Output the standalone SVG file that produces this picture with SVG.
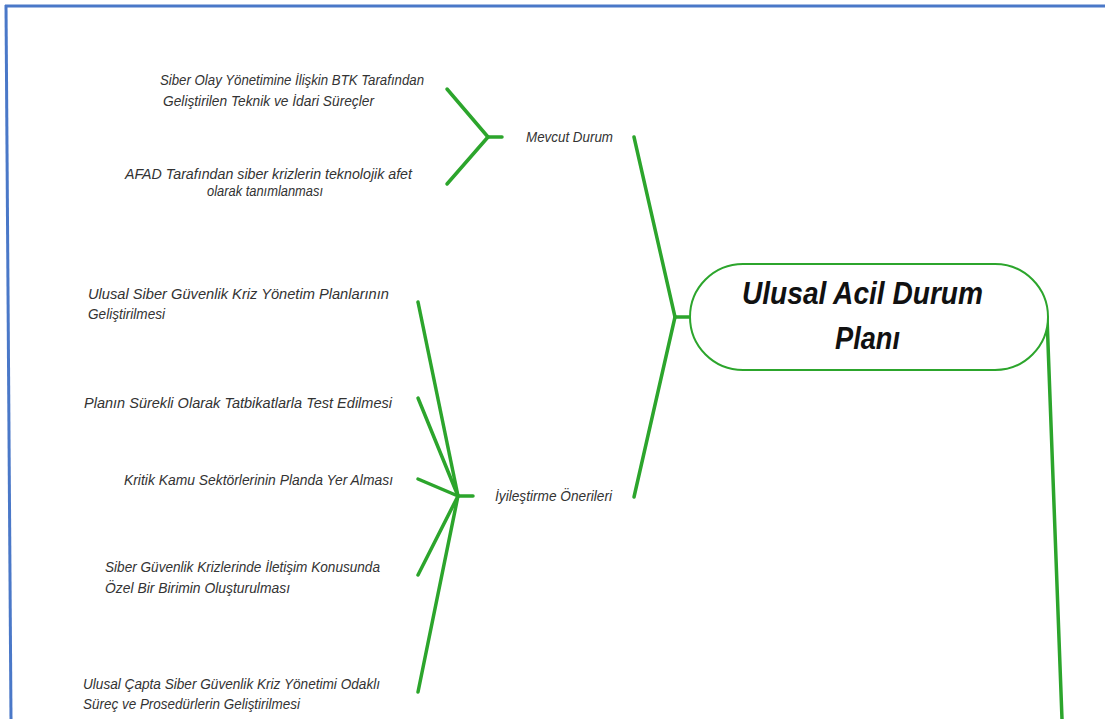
<svg xmlns="http://www.w3.org/2000/svg" width="1105" height="719" viewBox="0 0 1105 719">
  <style>
    .frame { stroke: #4a78c8; stroke-width: 3; fill: none; }
    .edge { stroke: #2ca52c; stroke-width: 3.5; stroke-linecap: round; fill: none; }
    .root-box { fill: #ffffff; stroke: #2ca52c; stroke-width: 2; }
    .lbl { font-family: "Liberation Sans", Arial, sans-serif; font-style: italic; font-size: 14.5px; fill: #333333; }
    .title { font-family: "Liberation Sans", Arial, sans-serif; font-style: italic; font-weight: bold; font-size: 31px; fill: #111111; }
  </style>

  <rect x="0" y="0" width="1105" height="719" fill="#ffffff"/>
  <!-- page frame -->
  <line class="frame" x1="5" y1="6" x2="1105" y2="6"/>
  <line class="frame" x1="6" y1="5" x2="11" y2="719"/>

  <g id="connectors">
    <!-- root to main branches -->
    <line class="edge" x1="689" y1="317" x2="675" y2="317"/>
    <line class="edge" x1="675" y1="317" x2="634" y2="137"/>
    <line class="edge" x1="675" y1="317" x2="634" y2="497"/>
    <line class="edge" x1="1047" y1="317" x2="1062" y2="719"/>
    <!-- Mevcut Durum fan -->
    <line class="edge" x1="502" y1="137" x2="488" y2="137"/>
    <line class="edge" x1="488" y1="137" x2="447" y2="89"/>
    <line class="edge" x1="488" y1="137" x2="447" y2="184"/>
    <!-- İyileştirme Önerileri fan -->
    <line class="edge" x1="473" y1="496" x2="458" y2="496"/>
    <line class="edge" x1="458" y1="496" x2="418" y2="302"/>
    <line class="edge" x1="458" y1="496" x2="418" y2="398"/>
    <line class="edge" x1="458" y1="496" x2="418" y2="479"/>
    <line class="edge" x1="458" y1="496" x2="418" y2="575"/>
    <line class="edge" x1="458" y1="496" x2="418" y2="692"/>
  </g>

  <g id="root">
    <rect class="root-box" x="690" y="264" width="358" height="106" rx="53" ry="53"/>
    <text class="title" x="742" y="304" textLength="241" lengthAdjust="spacingAndGlyphs">Ulusal Acil Durum</text>
    <text class="title" x="835" y="349" textLength="65" lengthAdjust="spacingAndGlyphs">Planı</text>
  </g>

  <g id="mevcut-durum">
    <text class="lbl" x="526" y="142" textLength="87" lengthAdjust="spacingAndGlyphs">Mevcut Durum</text>
  </g>

  <g id="btk-surecleri">
    <text class="lbl" x="160" y="85" textLength="264" lengthAdjust="spacingAndGlyphs">Siber Olay Yönetimine İlişkin BTK Tarafından</text>
    <text class="lbl" x="163" y="106" textLength="211" lengthAdjust="spacingAndGlyphs">Geliştirilen Teknik ve İdari Süreçler</text>
  </g>

  <g id="afad">
    <text class="lbl" x="125" y="179" textLength="287" lengthAdjust="spacingAndGlyphs">AFAD Tarafından siber krizlerin teknolojik afet</text>
    <text class="lbl" x="207" y="196" textLength="116" lengthAdjust="spacingAndGlyphs">olarak tanımlanması</text>
  </g>

  <g id="iyilestirme-onerileri">
    <text class="lbl" x="495" y="501" textLength="117" lengthAdjust="spacingAndGlyphs">İyileştirme Önerileri</text>
  </g>

  <g id="kriz-planlari">
    <text class="lbl" x="88" y="299" textLength="301" lengthAdjust="spacingAndGlyphs">Ulusal Siber Güvenlik Kriz Yönetim Planlarının</text>
    <text class="lbl" x="88" y="319" textLength="77" lengthAdjust="spacingAndGlyphs">Geliştirilmesi</text>
  </g>

  <g id="tatbikat">
    <text class="lbl" x="84" y="408" textLength="308" lengthAdjust="spacingAndGlyphs">Planın Sürekli Olarak Tatbikatlarla Test Edilmesi</text>
  </g>

  <g id="kamu-sektorleri">
    <text class="lbl" x="124" y="485" textLength="269" lengthAdjust="spacingAndGlyphs">Kritik Kamu Sektörlerinin Planda Yer Alması</text>
  </g>

  <g id="iletisim-birimi">
    <text class="lbl" x="105" y="572" textLength="275" lengthAdjust="spacingAndGlyphs">Siber Güvenlik Krizlerinde İletişim Konusunda</text>
    <text class="lbl" x="105" y="593" textLength="185" lengthAdjust="spacingAndGlyphs">Özel Bir Birimin Oluşturulması</text>
  </g>

  <g id="surec-prosedur">
    <text class="lbl" x="83" y="689" textLength="297" lengthAdjust="spacingAndGlyphs">Ulusal Çapta Siber Güvenlik Kriz Yönetimi Odaklı</text>
    <text class="lbl" x="83" y="709" textLength="217" lengthAdjust="spacingAndGlyphs">Süreç ve Prosedürlerin Geliştirilmesi</text>
  </g>
</svg>
